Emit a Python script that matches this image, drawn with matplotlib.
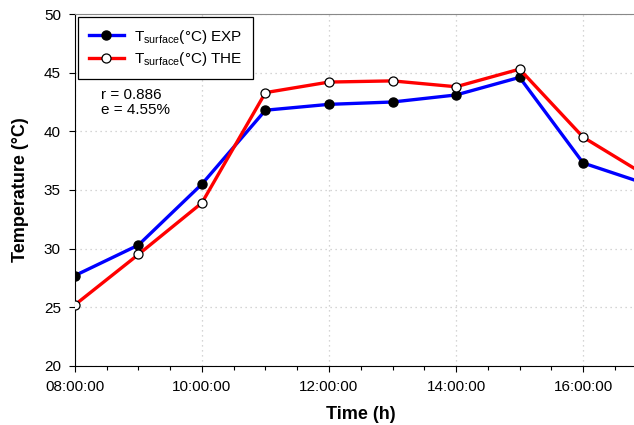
import numpy as np
from matplotlib import pyplot as plt
from matplotlib.ticker import MultipleLocator, FuncFormatter

plt.rcParams['font.family'] = ['Liberation Sans', 'DejaVu Sans']

# datos (hora decimal)
horas = [8, 9, 10, 11, 12, 13, 14, 15, 16, 17]
t_exp = [27.7, 30.3, 35.5, 41.8, 42.3, 42.5, 43.1, 44.6, 37.3, 35.5]
t_the = [25.2, 29.5, 33.9, 43.3, 44.2, 44.3, 43.8, 45.3, 39.5, 36.2]
x_ticks = [8, 10, 12, 14, 16]

fig = plt.figure(figsize=(6.34, 4.25), dpi=100)
ax = fig.add_axes([0.118, 0.139, 0.902, 0.828])

ax.plot(horas, t_exp, color='#0000ff', lw=2.4, marker='o', ms=6.5,
        mfc='black', mec='black', label=r'T$_{\mathregular{surface}}$(°C) EXP', zorder=3)
ax.plot(horas, t_the, color='#ff0000', lw=2.4, marker='o', ms=6.5,
        mfc='white', mec='black', mew=0.9, label=r'T$_{\mathregular{surface}}$(°C) THE', zorder=3)

ax.set_xlim(8, 17)
ax.set_ylim(20, 50)
ax.set_xticks(x_ticks)
ax.xaxis.set_minor_locator(MultipleLocator(0.5))
ax.yaxis.set_major_locator(MultipleLocator(5))
ax.xaxis.set_major_formatter(FuncFormatter(lambda v, p: '%02d:00:00' % int(v)))
ax.tick_params(labelsize=11, direction='out', length=4, width=0.8)
ax.tick_params(axis='x', pad=6)
ax.tick_params(axis='y', pad=6)
ax.tick_params(which='minor', length=3, width=0.8)

ax.grid(True, which='major', color='#c8c8c8', linestyle=(0, (1, 3)), linewidth=0.9)
ax.set_axisbelow(True)
ax.spines['top'].set_color('#888888')
ax.spines['right'].set_visible(False)

ax.set_xlabel('Time (h)', fontsize=13, fontweight='bold', labelpad=9)
ax.set_ylabel('Temperature (°C)', fontsize=13, fontweight='bold', labelpad=11)

leg = ax.legend(loc='upper left', bbox_to_anchor=(0.0, 1.0), fontsize=11,
                fancybox=False, edgecolor='black', framealpha=1, handlelength=2.3,
                handletextpad=0.65, borderpad=0.7, labelspacing=0.3,
                borderaxespad=0.2)
leg.get_frame().set_linewidth(0.9)

ax.text(0.046, 0.79, 'r = 0.886\ne = 4.55%', transform=ax.transAxes,
        fontsize=11, va='top', linespacing=1.1)

plt.savefig('out.png', dpi=100)
plt.close()
